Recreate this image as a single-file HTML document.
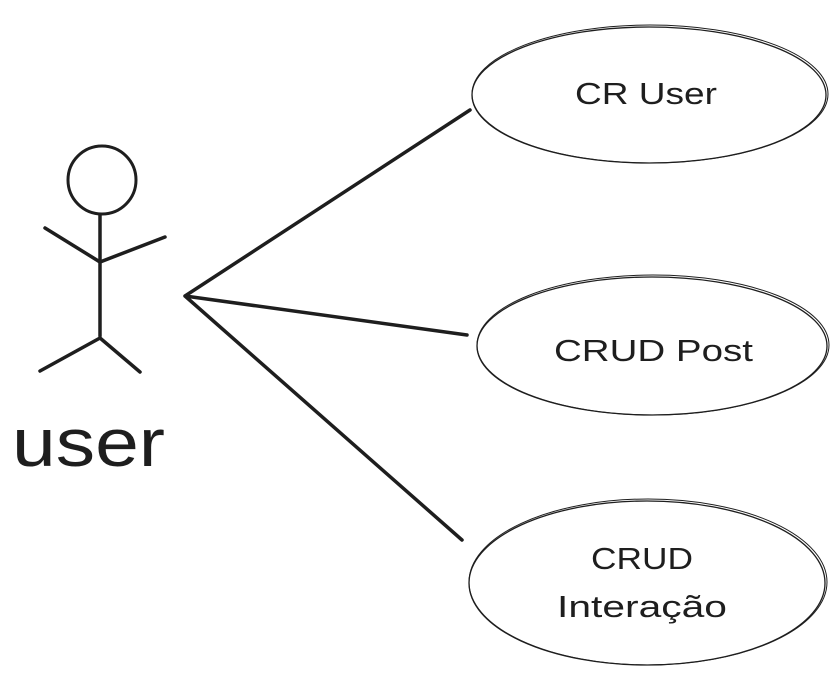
<!DOCTYPE html>
<html><head><meta charset="utf-8"><style>
html,body{margin:0;padding:0;background:#fff;}
svg{display:block;}
text{font-family:"Liberation Sans",sans-serif;fill:#1e1e1e;}
</style></head><body>
<svg width="838" height="677" viewBox="0 0 838 677" xmlns="http://www.w3.org/2000/svg">
<g fill="none" stroke="#1e1e1e" stroke-linecap="round">
<ellipse cx="649" cy="95" rx="177" ry="68" stroke-width="1.3"/>
<ellipse cx="650" cy="94" rx="178" ry="69" stroke-width="1"/>
<ellipse cx="652" cy="346" rx="175" ry="69" stroke-width="1.3"/>
<ellipse cx="653" cy="345" rx="176" ry="70" stroke-width="1"/>
<ellipse cx="647" cy="583" rx="178" ry="82" stroke-width="1.3"/>
<ellipse cx="648" cy="582" rx="179" ry="83" stroke-width="1"/>
<circle cx="102" cy="180" r="34" stroke-width="3"/>
<path d="M100 215 L100 336" stroke-width="3.5"/>
<path d="M45 228 L100 262 L165 237" stroke-width="3.5"/>
<path d="M100 338 L40 371 M100 338 L140 372" stroke-width="3.5"/>
<path d="M185 296 L470 110 M185 296 L467 335 M185 296 L462 540" stroke-width="3.5"/>
</g>
<text x="575" y="104" font-size="31" textLength="142" lengthAdjust="spacingAndGlyphs">CR User</text>
<text x="554" y="361" font-size="31" textLength="199" lengthAdjust="spacingAndGlyphs">CRUD Post</text>
<text x="591" y="569" font-size="31" textLength="102" lengthAdjust="spacingAndGlyphs">CRUD</text>
<text x="557" y="617" font-size="31" textLength="170" lengthAdjust="spacingAndGlyphs">Interação</text>
<text x="12" y="466" font-size="68" textLength="153" lengthAdjust="spacingAndGlyphs">user</text>
</svg>
</body></html>
